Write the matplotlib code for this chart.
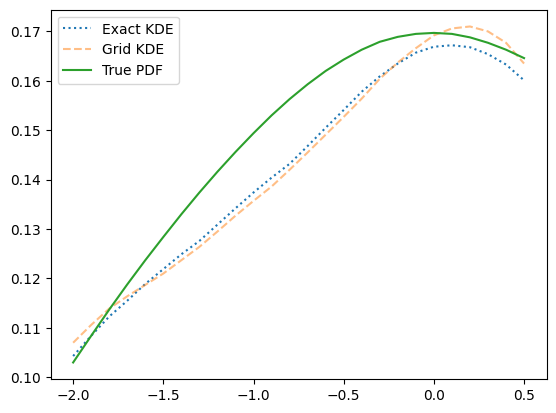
import matplotlib

matplotlib.use("Agg")
import matplotlib.pyplot as plt

# nilai dibaca dari gambar acuan, langkah 0.1 dari -2.0 sampai 0.5
x = [-2.0, -1.9, -1.8, -1.7, -1.6, -1.5, -1.4, -1.3, -1.2, -1.1, -1.0, -0.9, -0.8,
     -0.7, -0.6, -0.5, -0.4, -0.3, -0.2, -0.1, 0.0, 0.1, 0.2, 0.3, 0.4, 0.5]

exact_kde = [0.1043, 0.1084, 0.1123, 0.1155, 0.1189, 0.1219, 0.1249, 0.1276, 0.1309,
             0.1342, 0.1374, 0.1404, 0.1432, 0.1468, 0.1505, 0.1541, 0.1578, 0.1609,
             0.1635, 0.1657, 0.1669, 0.1672, 0.1668, 0.1654, 0.1633, 0.1601]

grid_kde = [0.1070, 0.1106, 0.1139, 0.1164, 0.1187, 0.1210, 0.1237, 0.1264, 0.1295,
            0.1327, 0.1357, 0.1386, 0.1420, 0.1455, 0.1491, 0.1527, 0.1564, 0.1604,
            0.1637, 0.1666, 0.1692, 0.1706, 0.1710, 0.1700, 0.1677, 0.1635]

true_pdf = [0.1030, 0.1084, 0.1137, 0.1188, 0.1237, 0.1284, 0.1330, 0.1374, 0.1416,
            0.1456, 0.1494, 0.1530, 0.1563, 0.1593, 0.1620, 0.1643, 0.1663, 0.1679,
            0.1689, 0.1695, 0.1697, 0.1695, 0.1688, 0.1677, 0.1663, 0.1646]

fig, ax = plt.subplots(figsize=(6.4, 4.8), dpi=100)
ax.plot(x, exact_kde, ":", label="Exact KDE")
ax.plot(x, grid_kde, "--", alpha=0.5, label="Grid KDE")
ax.plot(x, true_pdf, "-", label="True PDF")
ax.legend(loc="upper left")
fig.savefig("out.png", dpi=100, bbox_inches="tight")
